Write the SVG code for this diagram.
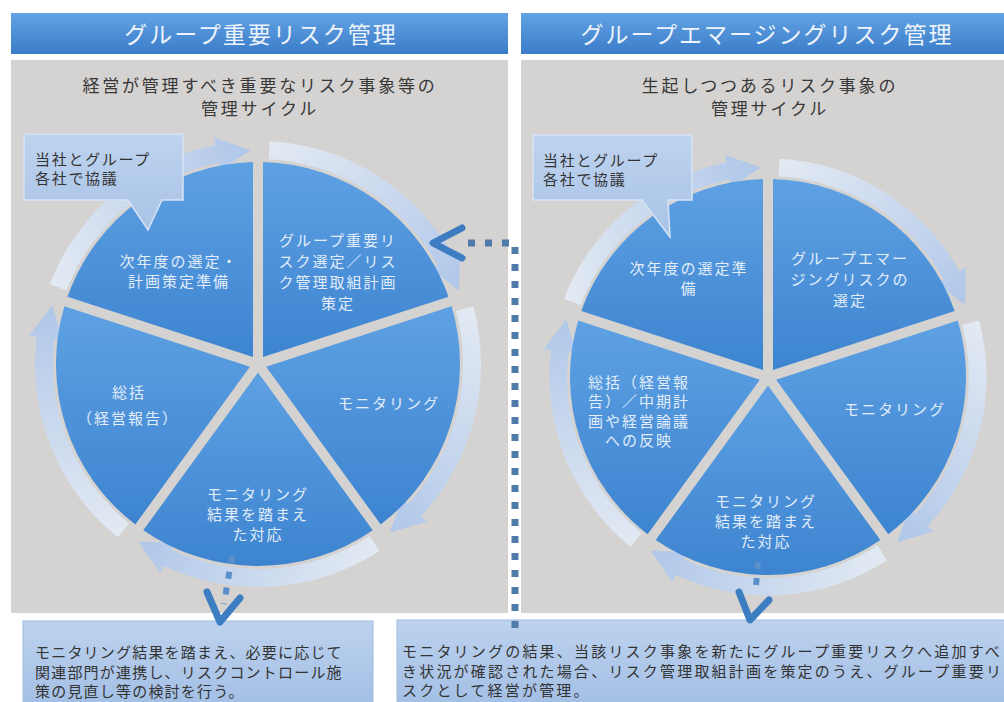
<svg xmlns="http://www.w3.org/2000/svg" width="1004" height="702" viewBox="0 0 1004 702">
<defs>
<linearGradient id="gHdr" x1="0" y1="0" x2="0" y2="1"><stop offset="0" stop-color="#63a3e4"/><stop offset="1" stop-color="#3a7cc9"/></linearGradient>
<linearGradient id="gWedge" x1="0" y1="0" x2="0" y2="1"><stop offset="0" stop-color="#5ea1e3"/><stop offset="1" stop-color="#3d84d0"/></linearGradient>
<linearGradient id="gRing" x1="0" y1="0" x2="1" y2="1"><stop offset="0" stop-color="#e4ecf6"/><stop offset="1" stop-color="#adc6eb"/></linearGradient>
<linearGradient id="gCall" x1="0" y1="0" x2="0" y2="1"><stop offset="0" stop-color="#bed3ee"/><stop offset="1" stop-color="#a8c3e7"/></linearGradient>
<linearGradient id="gBox" x1="0" y1="0" x2="0" y2="1"><stop offset="0" stop-color="#bdd2ee"/><stop offset="1" stop-color="#a3bfe5"/></linearGradient>
<path id="ringArrow" d="M10.73,-204.72 L11.67,-222.69 A223,223 0 0 1 195.04,-108.11 L202.04,-111.99 L201.09,-73.19 L172.30,-95.51 L179.30,-99.39 A205,205 0 0 0 10.73,-204.72 Z"/>
<style>
text{font-family:'Noto Sans CJK JP','Noto Sans',sans-serif}
.panel{fill:#d5d3d1}
.hdr{fill:url(#gHdr)}
.hdr-t{font-size:23px;fill:#eef4fb;letter-spacing:2px;text-anchor:middle}
.sub{font-size:17px;fill:#383838;letter-spacing:2.8px;text-anchor:middle}
.wedge{fill:url(#gWedge)}
.wt{font-size:15px;fill:#e2edf9;letter-spacing:2px;text-anchor:middle}
.ring{fill:url(#gRing);opacity:0.92}
.call{fill:url(#gCall);stroke:#d6e3f4;stroke-width:1.5}
.ct{font-size:15px;fill:#333;letter-spacing:1.7px}
.box{fill:url(#gBox);stroke:#9fbbe0;stroke-width:1}
.bt{font-size:15px;fill:#333}
.dots{fill:none;stroke:#4f7bab;stroke-width:7;stroke-dasharray:7 10}
.dots2{fill:none;stroke:#5b8fca;stroke-width:6;stroke-dasharray:7 9}
.chev{fill:none;stroke:#3d7dc2;stroke-width:7;stroke-linecap:round;stroke-linejoin:round}
</style>
</defs>
<rect width="1004" height="702" fill="#ffffff"/>

<g id="header-left"><rect class="hdr" x="11" y="13" width="497" height="41"/><text class="hdr-t" x="261" y="43">グループ重要リスク管理</text></g>
<g id="header-right"><rect class="hdr" x="521" y="13" width="483" height="41"/><text class="hdr-t" x="767" y="43">グループエマージングリスク管理</text></g>

<g id="panel-left"><rect class="panel" x="11" y="60" width="497" height="553"/>
<text class="sub" x="260" y="92">経営が管理すべき重要なリスク事象等の</text><text class="sub" x="260" y="115">管理サイクル</text></g>
<g id="panel-right"><rect class="panel" x="521" y="60" width="483" height="553"/>
<text class="sub" x="770" y="92">生起しつつあるリスク事象の</text><text class="sub" x="770" y="115">管理サイクル</text></g>

<g id="connectors">
<g id="cycle-arrows-left">
<use href="#ringArrow" class="ring" transform="translate(258,364) rotate(0)"/>
<use href="#ringArrow" class="ring" transform="translate(258,364) rotate(72)"/>
<use href="#ringArrow" class="ring" transform="translate(258,364) rotate(144)"/>
<use href="#ringArrow" class="ring" transform="translate(258,364) rotate(216)"/>
<use href="#ringArrow" class="ring" transform="translate(258,364) rotate(288)"/>
</g>
<g id="cycle-arrows-right">
<use href="#ringArrow" class="ring" transform="translate(768,377) scale(0.98) rotate(0)"/>
<use href="#ringArrow" class="ring" transform="translate(768,377) scale(0.98) rotate(72)"/>
<use href="#ringArrow" class="ring" transform="translate(768,377) scale(0.98) rotate(144)"/>
<use href="#ringArrow" class="ring" transform="translate(768,377) scale(0.98) rotate(216)"/>
<use href="#ringArrow" class="ring" transform="translate(768,377) scale(0.98) rotate(288)"/>
</g>
</g>

<g id="L-select"><path class="wedge" d="M263,357.1 L263,162.06 A202,202 0 0 1 448.51,296.84 Z"/>
<text class="wt" x="338" y="246">グループ重要リ</text><text class="wt" x="338" y="267">スク選定／リス</text><text class="wt" x="338" y="288">ク管理取組計画</text><text class="wt" x="338" y="309">策定</text></g>
<g id="L-monitor"><path class="wedge" d="M266.08,366.63 L451.6,306.35 A202,202 0 0 1 380.71,524.45 Z"/>
<text class="wt" x="389" y="409">モニタリング</text></g>
<g id="L-response"><path class="wedge" d="M258,372.5 L372.77,530.23 A202,202 0 0 1 143.23,530.23 Z"/>
<text class="wt" x="258" y="500">モニタリング</text><text class="wt" x="258" y="520">結果を踏まえ</text><text class="wt" x="258" y="540">た対応</text></g>
<g id="L-summary"><path class="wedge" d="M249.92,366.63 L135.29,524.45 A202,202 0 0 1 64.4,306.35 Z"/>
<text class="wt" x="129" y="398">総括</text><text class="wt" x="128" y="424">（経営報告）</text></g>
<g id="L-next"><path class="wedge" d="M253,357.12 L67.49,296.84 A202,202 0 0 1 253,162.06 Z"/>
<text class="wt" x="179" y="267">次年度の選定・</text><text class="wt" x="179" y="287">計画策定準備</text></g>

<g id="R-select"><path class="wedge" d="M773,370.12 L773,179.06 A198,198 0 0 1 954.71,311.08 Z"/>
<text class="wt" x="850" y="264">グループエマー</text><text class="wt" x="850" y="285">ジングリスクの</text><text class="wt" x="850" y="306">選定</text></g>
<g id="R-monitor"><path class="wedge" d="M776.08,379.63 L957.79,320.59 A198,198 0 0 1 888.37,534.21 Z"/>
<text class="wt" x="895" y="415">モニタリング</text></g>
<g id="R-response"><path class="wedge" d="M768,385.5 L880.31,540.07 A198,198 0 0 1 655.69,540.07 Z"/>
<text class="wt" x="766" y="507">モニタリング</text><text class="wt" x="766" y="527">結果を踏まえ</text><text class="wt" x="766" y="547">た対応</text></g>
<g id="R-summary"><path class="wedge" d="M759.92,379.63 L647.63,534.21 A198,198 0 0 1 578.21,320.59 Z"/>
<text class="wt" x="639" y="388">総括（経営報</text><text class="wt" x="639" y="407">告）／中期計</text><text class="wt" x="639" y="427">画や経営論議</text><text class="wt" x="639" y="446">への反映</text></g>
<g id="R-next"><path class="wedge" d="M763,370.12 L581.29,311.08 A198,198 0 0 1 763,179.06 Z"/>
<text class="wt" x="689" y="274">次年度の選定準</text><text class="wt" x="689" y="294">備</text></g>

<g id="callout-left"><path class="call" d="M24,134 H183 V200 H162 L148,230 L128,200 H24 Z"/>
<text class="ct" x="35" y="165">当社とグループ</text><text class="ct" x="35" y="184">各社で協議</text></g>
<g id="callout-right"><path class="call" d="M533,135 H692 V200 H668 L670,237 L642,200 H533 Z"/>
<text class="ct" x="543" y="166">当社とグループ</text><text class="ct" x="543" y="185">各社で協議</text></g>

<g id="box-left"><rect class="box" x="23" y="621" width="350" height="84"/>
<text class="bt" x="35" y="658" style="letter-spacing:1.2px">モニタリング結果を踏まえ、必要に応じて</text>
<text class="bt" x="35" y="678" style="letter-spacing:1.2px">関連部門が連携し、リスクコントロール施</text>
<text class="bt" x="35" y="697" style="letter-spacing:1.2px">策の見直し等の検討を行う。</text></g>
<g id="box-right"><rect class="box" x="397" y="620" width="610" height="85"/>
<text class="bt" x="402" y="657" style="letter-spacing:2.2px">モニタリングの結果、当該リスク事象を新たにグループ重要リスクへ追加すべ</text>
<text class="bt" x="402" y="677" style="letter-spacing:2.2px">き状況が確認された場合、リスク管理取組計画を策定のうえ、グループ重要リ</text>
<text class="bt" x="402" y="696" style="letter-spacing:2.2px">スクとして経営が管理。</text></g>

<g id="connector-lines">
<path class="dots" d="M515,628 V243 H460"/>
<polyline class="chev" points="462,228 433,243 462,258"/>
<path class="dots2" d="M232,556 L224,604"/>
<polyline class="chev" points="207,592 220,622 240,598"/>
<path class="dots2" d="M758,562 L756,586"/>
<polyline class="chev" points="739,592 750,620 769,600"/>
</g>
</svg>
